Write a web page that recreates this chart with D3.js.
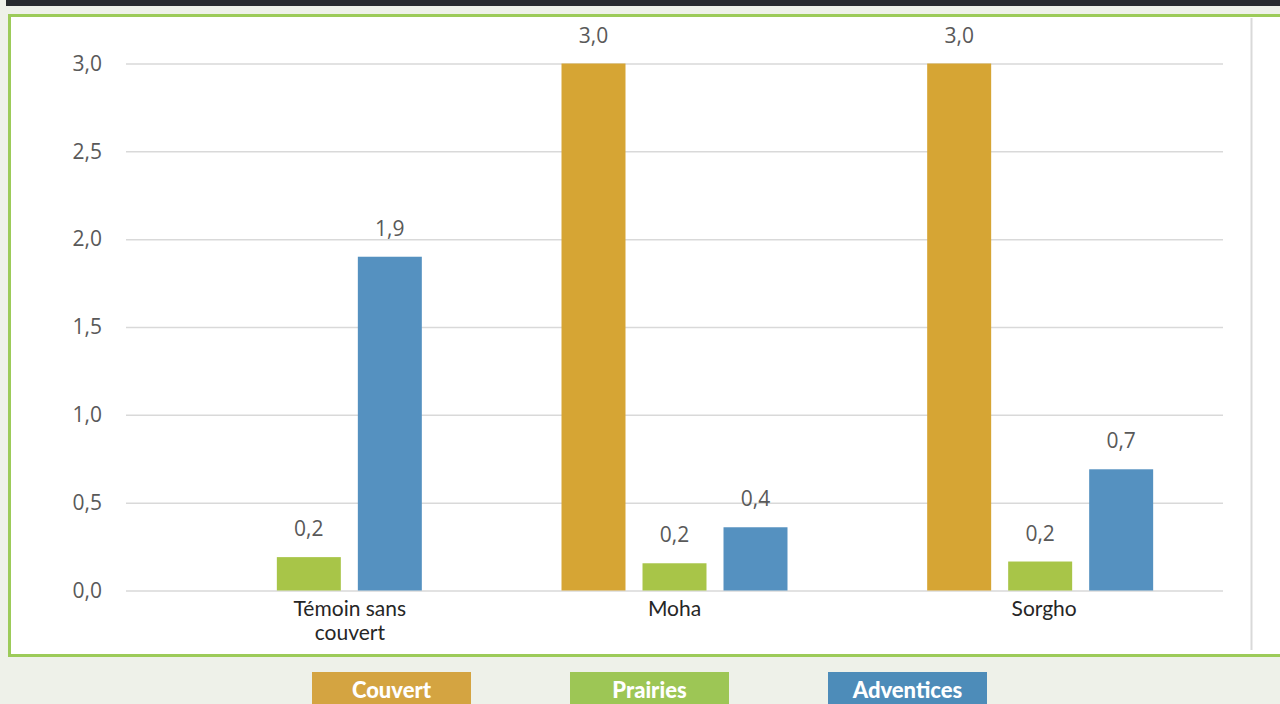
<!DOCTYPE html>
<html><head><meta charset="utf-8">
<script src="https://cdn.jsdelivr.net/npm/d3@7"></script>
<style>
html,body{margin:0;padding:0;background:#eef1e9;overflow:hidden;}
svg{display:block;}
</style></head>
<body>
<svg id="chart" width="1280" height="704"></svg>
<script>
const categories = ["Témoin sans couvert", "Moha", "Sorgho"];
const categoryLines = [["Témoin sans", "couvert"], ["Moha"], ["Sorgho"]];
const series = ["Couvert", "Prairies", "Adventices"];
const couvertValues = [0, 3.0, 3.0];
const prairiesValues = [0.19, 0.155, 0.165];
const adventicesValues = [1.9, 0.36, 0.69];
const yTicks = [0, 0.5, 1.0, 1.5, 2.0, 2.5, 3.0];
const seriesColors = ["#d6a534", "#a8c548", "#5591c0"];
const legendColors = ["#d4a441", "#9dc655", "#4d8cb9"];

const values = [couvertValues, prairiesValues, adventicesValues];
const fmt = v => d3.format(".1f")(v).replace(".", ",");

const svg = d3.select("#chart");

// top dark bar
svg.append("rect").attr("x", 6).attr("y", 0).attr("width", 1274).attr("height", 6).attr("fill", "#282b2f");
// white panel with green border
svg.append("rect").attr("x", 9.5).attr("y", 15.5).attr("width", 1290).attr("height", 640)
  .attr("fill", "#ffffff").attr("stroke", "#9ccb59").attr("stroke-width", 3);
// right gray divider
svg.append("line").attr("x1", 1251.5).attr("x2", 1251.5).attr("y1", 18).attr("y2", 650)
  .attr("stroke", "#d9d9d9").attr("stroke-width", 2);

const plotLeft = 126, plotRight = 1223;
const y = d3.scaleLinear().domain([0, 3]).range([590.5, 63.5]);
const x0 = d3.scaleBand().domain(categories).range([plotLeft, plotRight]).paddingInner(0.382).paddingOuter(0.191);
const x1 = d3.scaleBand().domain(series).range([0, x0.bandwidth()]).paddingInner(0.21);

// gridlines
const yAxis = d3.axisLeft(y).tickValues(yTicks).tickSize(-(plotRight - plotLeft)).tickFormat(fmt).tickPadding(24);
const gAxis = svg.append("g").attr("transform", `translate(${plotLeft},0)`).call(yAxis);
gAxis.select(".domain").remove();
gAxis.selectAll(".tick line").attr("stroke", "#d9d9d9").attr("stroke-width", 1.5);
gAxis.selectAll(".tick text").attr("fill", "#595959").attr("font-family", "'Open Sans', sans-serif").attr("font-size", 21);

// bars
const groups = svg.selectAll("g.cat").data(categories).join("g").attr("class", "cat")
  .attr("transform", d => `translate(${x0(d)},0)`);
series.forEach((s, si) => {
  groups.each(function(c, ci) {
    const v = values[si][ci];
    if (v <= 0) return;
    const g = d3.select(this);
    g.append("rect").attr("x", x1(s)).attr("width", x1.bandwidth())
      .attr("y", y(v)).attr("height", y(0) - y(v)).attr("fill", seriesColors[si]);
    g.append("text").attr("x", x1(s) + x1.bandwidth() / 2).attr("y", y(v) - 21)
      .attr("text-anchor", "middle").attr("fill", "#595959")
      .attr("font-family", "'Open Sans', sans-serif").attr("font-size", 21).text(fmt(v));
  });
});

// category labels
const labelOffsets = [41, 0, 4];
categories.forEach((c, ci) => {
  categoryLines[ci].forEach((ln, li) => {
    svg.append("text").attr("text-anchor", "middle").attr("fill", "#262626")
      .attr("font-family", "Lato, sans-serif").attr("font-size", 21)
      .attr("x", x0(c) + x0.bandwidth() / 2 + labelOffsets[ci]).attr("y", 616 + li * 24).text(ln);
  });
});

// legend
const legendX = d3.scalePoint().domain(series).range([312, 828]);
series.forEach((s, si) => {
  svg.append("rect").attr("x", legendX(s)).attr("y", 672).attr("width", 159).attr("height", 40).attr("fill", legendColors[si]);
  svg.append("text").attr("x", legendX(s) + 79.5).attr("y", 698).attr("text-anchor", "middle")
    .attr("fill", "#ffffff").attr("font-family", "Lato, sans-serif").attr("font-weight", "900")
    .attr("font-size", 22).text(s);
});
</script>
</body></html>
